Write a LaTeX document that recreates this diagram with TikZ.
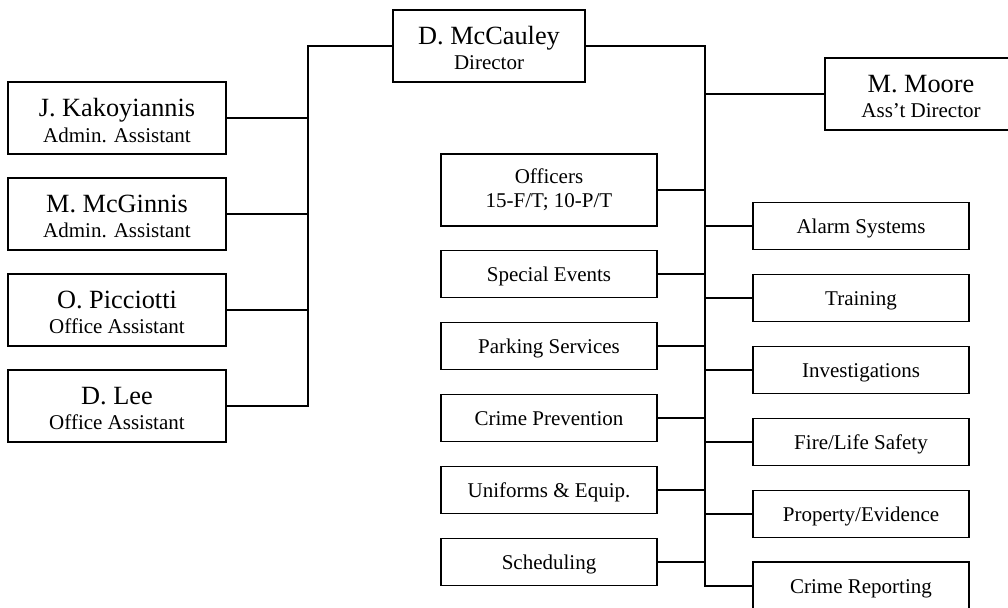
\documentclass[tikz,border=0pt]{standalone}
\usepackage{fontspec}
\setmainfont{Liberation Serif}
\newcommand{\namef}{\fontsize{26.3}{26}\selectfont}
\newcommand{\subf}{\fontsize{21}{24}\selectfont}
\tikzset{
  orgbox/.style={draw, line width=1.4pt, inner sep=0pt, align=center, font=\subf},
  bigbox/.style={orgbox, minimum width=#1, minimum height=72},
  unitbox/.style={draw, line width=1.4pt, inner sep=0pt, font=\subf, text height=18pt, text depth=4pt, minimum width=216, minimum height=47},
  boxtext/.style={inner sep=0pt, align=center, font=\subf},
  link/.style={line width=1.3pt}
}
\begin{document}
\begin{tikzpicture}[x=1pt,y=-1pt]
\useasboundingbox (0,0) rectangle (1008,607);
\clip (0,0) rectangle (1008,607);
% top
\node[bigbox=192] (dir) at (489,46) {};
\node[boxtext] (dirT) at (489,48) {{\namef D. McCauley}\\[1pt]Director};
\node[bigbox=192] (moore) at (921,94) {};
\node[boxtext] (mooreT) at (921,96) {{\namef M. Moore}\\[1pt]Ass't Director};
% left staff
\node[bigbox=218] (kak) at (117,118) {};
\node[boxtext] (kakT) at (117,120.5) {{\namef J. Kakoyiannis}\\[1.5pt]Admin. Assistant};
\node[bigbox=218] (mcg) at (117,214) {};
\node[boxtext] (mcgT) at (117,216.5) {{\namef M. McGinnis}\\[1.5pt]Admin. Assistant};
\node[bigbox=218] (pic) at (117,310) {};
\node[boxtext] (picT) at (117,312.5) {{\namef O. Picciotti}\\[1.5pt]Office Assistant};
\node[bigbox=218] (lee) at (117,406) {};
\node[boxtext] (leeT) at (117,408.5) {{\namef D. Lee}\\[1.5pt]Office Assistant};
% left units
\node[bigbox=216] (off) at (549,190) {Officers\\15-F/T; 10-P/T};
\node[unitbox] (spe) at (549,274) {Special Events};
\node[unitbox] (par) at (549,346) {Parking Services};
\node[unitbox] (cpr) at (549,418) {Crime Prevention};
\node[unitbox] (uni) at (549,490) {Uniforms \& Equip.};
\node[unitbox] (sch) at (549,562) {Scheduling};
% right units
\node[unitbox] (ala) at (861,226) {Alarm Systems};
\node[unitbox] (tra) at (861,298) {Training};
\node[unitbox] (inv) at (861,370) {Investigations};
\node[unitbox] (fir) at (861,442) {Fire/Life Safety};
\node[unitbox] (pro) at (861,514) {Property/Evidence};
\node[unitbox, minimum height=48] (cre) at (861,586) {Crime Reporting};
% trunk positions
\coordinate (lx) at (308,0);
\coordinate (rx) at (705,0);
% left tree
\draw[link] (dir.west) -| (lee.east -| lx) -- (lee.east);
\foreach \n in {kak,mcg,pic}{\draw[link] (\n.east) -- (\n.east -| lx);}
% right tree
\draw[link] (dir.east) -| (cre.west -| rx) -- (cre.west);
\draw[link] (moore.west) -- (moore.west -| rx);
\foreach \n in {off,spe,par,cpr,uni,sch}{\draw[link] (\n.east) -- (\n.east -| rx);}
\foreach \n in {ala,tra,inv,fir,pro}{\draw[link] (\n.west) -- (\n.west -| rx);}
\end{tikzpicture}
\end{document}
